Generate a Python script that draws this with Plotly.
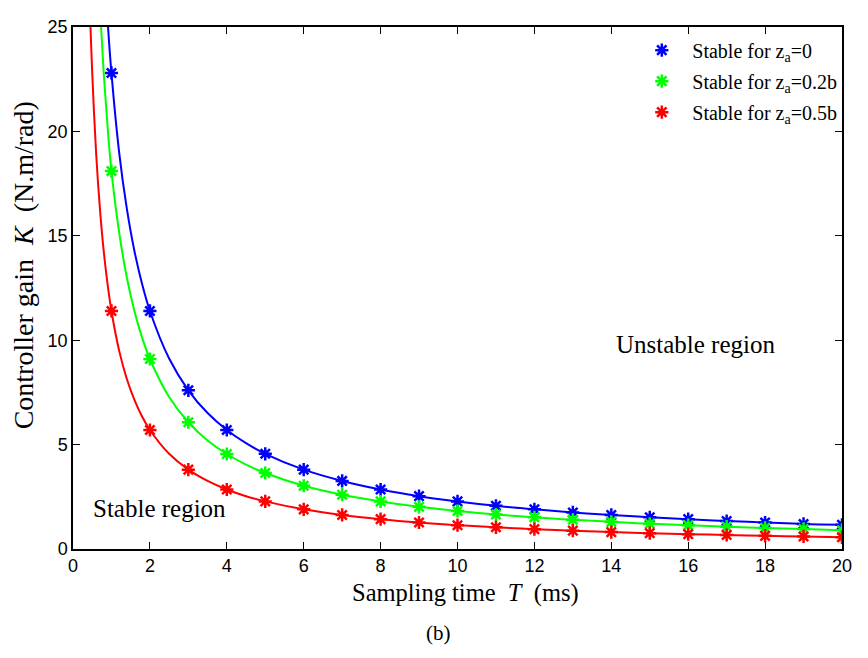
import plotly.graph_objects as go

# Marker data (sampling time T in ms, controller gain K in N.m/rad)
T_marks = [1, 2, 3, 4, 5, 6, 7, 8, 9, 10, 11, 12, 13, 14, 15, 16, 17, 18, 19, 20]
K_za0 = [22.8, 11.4, 7.6, 5.7, 4.56, 3.8, 3.26, 2.85, 2.53, 2.28, 2.07, 1.9, 1.75, 1.63, 1.52, 1.43, 1.34, 1.27, 1.2, 1.16]
K_za02 = [18.1, 9.1, 6.07, 4.55, 3.64, 3.03, 2.6, 2.28, 2.02, 1.82, 1.65, 1.52, 1.4, 1.3, 1.21, 1.14, 1.07, 1.01, 0.96, 0.9]
K_za05 = [11.4, 5.7, 3.8, 2.85, 2.28, 1.9, 1.63, 1.43, 1.27, 1.14, 1.04, 0.95, 0.88, 0.81, 0.76, 0.71, 0.67, 0.63, 0.6, 0.56]

# Continuous boundary curves
T_line_b = [0.8, 0.9, 1, 1.2, 1.4, 1.6, 1.8, 2, 2.5, 3, 3.5, 4, 4.5, 5, 6, 7, 8, 9, 10, 11, 12, 13, 14, 15, 16, 17, 18, 19, 20]
K_line_b = [28.5, 25.3, 22.8, 19.0, 16.3, 14.25, 12.67, 11.4, 9.12, 7.6, 6.51, 5.7, 5.07, 4.56, 3.8, 3.26, 2.85, 2.53, 2.28, 2.07, 1.9, 1.75, 1.63, 1.52, 1.43, 1.34, 1.27, 1.2, 1.16]
T_line_g = [0.6, 0.7, 0.8, 0.9, 1, 1.2, 1.4, 1.6, 1.8, 2, 2.5, 3, 3.5, 4, 4.5, 5, 6, 7, 8, 9, 10, 11, 12, 13, 14, 15, 16, 17, 18, 19, 20]
K_line_g = [30.3, 26.0, 22.75, 20.2, 18.1, 15.17, 13.0, 11.38, 10.11, 9.1, 7.28, 6.07, 5.2, 4.55, 4.04, 3.64, 3.03, 2.6, 2.28, 2.02, 1.82, 1.65, 1.52, 1.4, 1.3, 1.21, 1.14, 1.07, 1.01, 0.96, 0.9]
T_line_r = [0.4, 0.45, 0.5, 0.6, 0.7, 0.8, 0.9, 1, 1.2, 1.4, 1.6, 1.8, 2, 2.5, 3, 3.5, 4, 4.5, 5, 6, 7, 8, 9, 10, 11, 12, 13, 14, 15, 16, 17, 18, 19, 20]
K_line_r = [28.5, 25.3, 22.8, 19.0, 16.3, 14.25, 12.67, 11.4, 9.5, 8.14, 7.13, 6.33, 5.7, 4.56, 3.8, 3.26, 2.85, 2.53, 2.28, 1.9, 1.63, 1.43, 1.27, 1.14, 1.04, 0.95, 0.88, 0.81, 0.76, 0.71, 0.67, 0.63, 0.6, 0.56]

x_ticks = [0, 2, 4, 6, 8, 10, 12, 14, 16, 18, 20]
y_ticks = [0, 5, 10, 15, 20, 25]

names = ["Stable for z<sub>a</sub>=0", "Stable for z<sub>a</sub>=0.2b", "Stable for z<sub>a</sub>=0.5b"]
colors = ["#0000ff", "#00ff00", "#ff0000"]

fig = go.Figure()
for tl, kl, km, c, n, g in [
    (T_line_b, K_line_b, K_za0, colors[0], names[0], "a"),
    (T_line_g, K_line_g, K_za02, colors[1], names[1], "b"),
    (T_line_r, K_line_r, K_za05, colors[2], names[2], "c"),
]:
    fig.add_trace(go.Scatter(x=tl, y=kl, mode="lines", line=dict(color=c, width=2, shape="spline"),
                             showlegend=False, hoverinfo="skip"))
    fig.add_trace(go.Scatter(x=T_marks, y=km, mode="markers", name=n, legendgroup=g,
                             marker=dict(symbol="asterisk-open", size=11, color=c,
                                         line=dict(color=c, width=2.5))))

serif = "Liberation Serif, Times New Roman, serif"
sans = "Liberation Sans, Arial, sans-serif"

axis_common = dict(showline=True, linecolor="black", linewidth=1.5, mirror="ticks",
                   ticks="inside", ticklen=7, tickcolor="black", tickwidth=1,
                   showgrid=False, zeroline=False,
                   tickfont=dict(family=sans, size=18, color="black"))

fig.update_layout(
    width=860, height=650,
    margin=dict(l=65, r=26, t=9, b=109),
    paper_bgcolor="white", plot_bgcolor="white",
    xaxis=dict(range=[0, 20], tickvals=x_ticks, **axis_common),
    yaxis=dict(range=[0, 25], tickvals=y_ticks, **axis_common),
    legend=dict(x=0.726, y=0.993, xanchor="left", yanchor="top",
                font=dict(family=serif, size=20, color="black"),
                bgcolor="rgba(0,0,0,0)", borderwidth=0, itemwidth=51,
                traceorder="grouped", tracegroupgap=2),
    showlegend=True,
)

# Axis titles
fig.add_annotation(x=0.51, y=-0.085, xref="paper", yref="paper",
                   text="Sampling time&nbsp; <i>T</i>&nbsp; (ms)", showarrow=False,
                   font=dict(family=serif, size=24.5, color="black"), xanchor="center", yanchor="middle")
fig.add_annotation(x=-0.064, y=0.543, xref="paper", yref="paper", textangle=-90,
                   text="Controller gain&nbsp; <i>K</i>&nbsp; (N.m/rad)", showarrow=False,
                   font=dict(family=serif, size=28, color="black"), xanchor="center", yanchor="middle")

fig.add_annotation(x=16.2, y=9.8, xref="x", yref="y", text="Unstable region", showarrow=False,
                   font=dict(family=serif, size=25, color="black"), xanchor="center", yanchor="middle")
fig.add_annotation(x=0.47, y=1.95, xref="x", yref="y", text="Stable region", showarrow=False,
                   font=dict(family=serif, size=25, color="black"), xanchor="left", yanchor="middle")
fig.add_annotation(x=0.475, y=-0.16, xref="paper", yref="paper", text="(b)", showarrow=False,
                   font=dict(family=serif, size=21, color="black"), xanchor="center", yanchor="middle")

fig.write_html("out.html")
